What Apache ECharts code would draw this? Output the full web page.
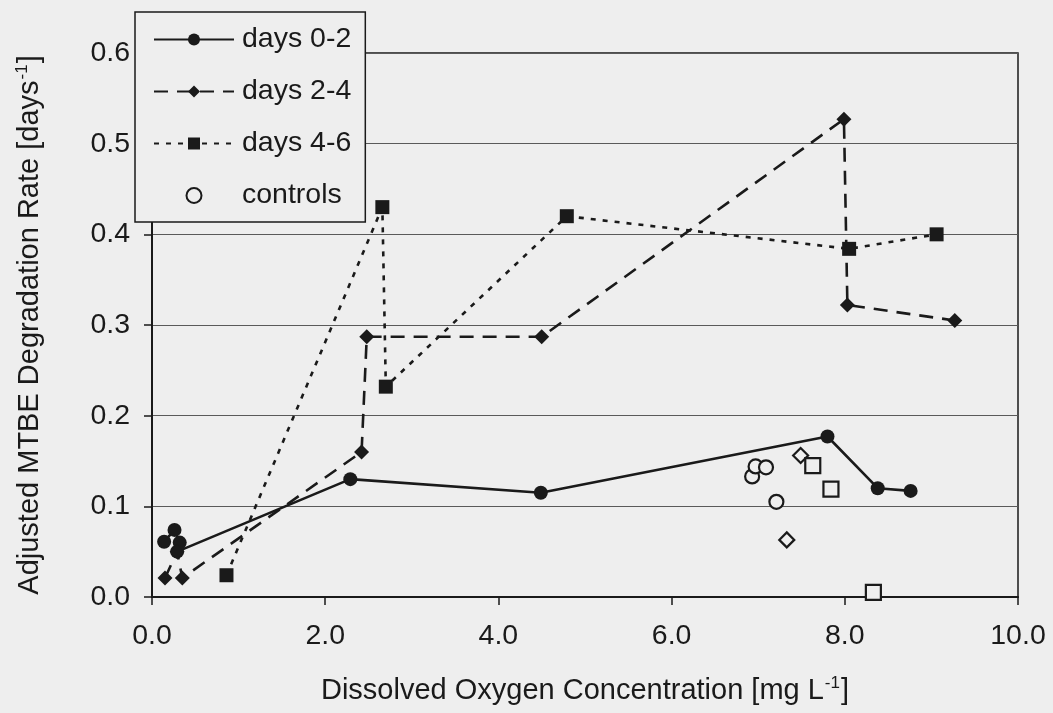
<!DOCTYPE html>
<html>
<head>
<meta charset="utf-8">
<title>MTBE degradation rate vs dissolved oxygen</title>
<script src="https://cdn.jsdelivr.net/npm/echarts@6.0.0/dist/echarts.min.js"></script>
<style>
  html, body { margin: 0; padding: 0; background: #eeeeee; }
  #chart { width: 1053px; height: 713px; }
</style>
</head>
<body>
<div id="chart"></div>
<script>
// Dissolved oxygen [mg/L] and adjusted degradation rate [1/day] per period
const days02X = [0.14, 0.26, 0.32, 0.29, 2.29, 4.49, 7.80, 8.38, 8.76];
const days02Y = [0.061, 0.074, 0.060, 0.050, 0.130, 0.115, 0.177, 0.120, 0.117];

const days24X = [0.15, 0.29, 0.35, 2.42, 2.48, 4.50, 7.99, 8.03, 9.27];
const days24Y = [0.021, 0.050, 0.021, 0.160, 0.287, 0.287, 0.527, 0.322, 0.305];

const days46X = [0.86, 2.66, 2.70, 4.79, 8.05, 9.06];
const days46Y = [0.024, 0.430, 0.232, 0.420, 0.384, 0.400];

// Controls (open symbols, one shape per period)
const ctrlCircleX = [6.93, 6.97, 7.09, 7.21];
const ctrlCircleY = [0.133, 0.144, 0.143, 0.105];
const ctrlDiamondX = [7.49, 7.33];
const ctrlDiamondY = [0.156, 0.063];
const ctrlSquareX = [7.63, 7.84, 8.33];
const ctrlSquareY = [0.145, 0.119, 0.005];

const xTicks = [0, 2, 4, 6, 8, 10];
const yTicks = [0, 0.1, 0.2, 0.3, 0.4, 0.5, 0.6];

const pairs = (xs, ys) => xs.map((x, i) => [x, ys[i]]);

const FONT = '"Liberation Sans", Arial, sans-serif';
const INK = '#1a1a1a';
const BG = '#eeeeee';

const chart = echarts.init(document.getElementById('chart'), null, { renderer: 'canvas' });

const lineSeries = (name, data, symbol, size, dash) => ({
  name,
  type: 'line',
  data,
  symbol,
  symbolSize: size,
  showSymbol: true,
  z: 3,
  lineStyle: { color: INK, width: 2.6, type: dash },
  itemStyle: { color: INK, borderWidth: 0, opacity: 1 },
  emphasis: { disabled: true }
});

const openSeries = (name, data, symbol, size) => ({
  name,
  type: 'scatter',
  data,
  symbol,
  symbolSize: size,
  z: 2,
  itemStyle: { color: BG, borderColor: INK, borderWidth: 2.2, opacity: 1 },
  emphasis: { disabled: true }
});

const richName = {
  a: { fontFamily: FONT, fontSize: 29, color: INK },
  s: { fontFamily: FONT, fontSize: 17, color: INK, verticalAlign: 'top', padding: [0, 1, 15, 1] }
};

chart.setOption({
  backgroundColor: BG,
  animation: false,
  textStyle: { fontFamily: FONT },
  grid: {
    left: 152, right: 35, top: 53, bottom: 116,
    show: true, borderColor: INK, borderWidth: 1.5, backgroundColor: 'transparent'
  },
  legend: {
    data: ['days 0-2', 'days 2-4', 'days 4-6', 'controls'],
    orient: 'vertical',
    left: 135, top: 12,
    padding: [13, 14, 12, 18],
    itemWidth: 80, itemHeight: 15, itemGap: 23,
    backgroundColor: BG,
    borderColor: INK, borderWidth: 1.5, borderRadius: 0,
    z: 10,
    selectedMode: false,
    textStyle: { fontFamily: FONT, fontSize: 28.5, lineHeight: 28, color: INK, padding: [0, 0, 0, 3] }
  },
  xAxis: {
    type: 'value',
    min: xTicks[0], max: xTicks[xTicks.length - 1], interval: 2,
    name: '{a|Dissolved Oxygen Concentration [mg L}{s|-1}{a|]}',
    nameLocation: 'middle', nameGap: 78,
    nameTextStyle: { rich: richName },
    axisLine: { show: true, lineStyle: { color: INK, width: 2 } },
    axisTick: { show: true, inside: false, length: 8, lineStyle: { color: INK, width: 1.5 } },
    axisLabel: { fontFamily: FONT, fontSize: 28.5, color: INK, margin: 25, formatter: v => v.toFixed(1) },
    splitLine: { show: false }
  },
  yAxis: {
    type: 'value',
    min: yTicks[0], max: yTicks[yTicks.length - 1], interval: 0.1,
    name: '{a|Adjusted MTBE Degradation Rate [days}{s|-1}{a|]}',
    nameLocation: 'middle', nameGap: 106,
    nameTextStyle: { rich: richName },
    axisLine: { show: true, lineStyle: { color: INK, width: 2 } },
    axisTick: { show: true, inside: false, length: 8, lineStyle: { color: INK, width: 1.5 } },
    axisLabel: { fontFamily: FONT, fontSize: 28.5, color: INK, margin: 22, formatter: v => v.toFixed(1) },
    splitLine: { show: true, lineStyle: { color: '#5a5a5a', width: 1.2 } }
  },
  series: [
    lineSeries('days 0-2', pairs(days02X, days02Y), 'circle', 14, 'solid'),
    lineSeries('days 2-4', pairs(days24X, days24Y), 'diamond', 15, [14, 9]),
    lineSeries('days 4-6', pairs(days46X, days46Y), 'rect', 14, [5, 7]),
    openSeries('controls', pairs(ctrlCircleX, ctrlCircleY), 'circle', 14),
    openSeries('controls (days 2-4)', pairs(ctrlDiamondX, ctrlDiamondY), 'diamond', 15),
    openSeries('controls (days 4-6)', pairs(ctrlSquareX, ctrlSquareY), 'rect', 15)
  ]
});
</script>
</body>
</html>
